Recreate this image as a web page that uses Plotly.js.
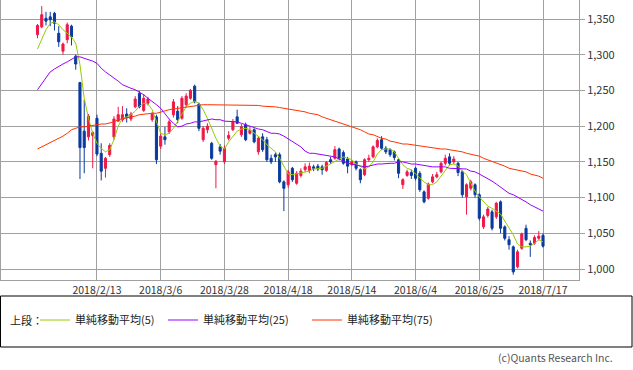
<!DOCTYPE html>
<html>
<head>
<meta charset="utf-8">
<script src="https://cdn.plot.ly/plotly-3.0.1.min.js"></script>
<style>html,body{margin:0;padding:0;background:#fff;}#chart{width:633px;height:370px;}</style>
</head>
<body>
<div id="chart"></div>
<script>
// ---- data ----
const dates = ['2018/1/23','2018/1/24','2018/1/25','2018/1/26','2018/1/29','2018/1/30','2018/1/31','2018/2/1','2018/2/2','2018/2/5','2018/2/6','2018/2/7','2018/2/8','2018/2/9','2018/2/13','2018/2/14','2018/2/15','2018/2/16','2018/2/19','2018/2/20','2018/2/21','2018/2/22','2018/2/23','2018/2/26','2018/2/27','2018/2/28','2018/3/1','2018/3/2','2018/3/5','2018/3/6','2018/3/7','2018/3/8','2018/3/9','2018/3/12','2018/3/13','2018/3/14','2018/3/15','2018/3/16','2018/3/19','2018/3/20','2018/3/22','2018/3/23','2018/3/26','2018/3/27','2018/3/28','2018/3/29','2018/3/30','2018/4/2','2018/4/3','2018/4/4','2018/4/5','2018/4/6','2018/4/9','2018/4/10','2018/4/11','2018/4/12','2018/4/13','2018/4/16','2018/4/17','2018/4/18','2018/4/19','2018/4/20','2018/4/23','2018/4/24','2018/4/25','2018/4/26','2018/4/27','2018/5/1','2018/5/2','2018/5/7','2018/5/8','2018/5/9','2018/5/10','2018/5/11','2018/5/14','2018/5/15','2018/5/16','2018/5/17','2018/5/18','2018/5/21','2018/5/22','2018/5/23','2018/5/24','2018/5/25','2018/5/28','2018/5/29','2018/5/30','2018/5/31','2018/6/1','2018/6/4','2018/6/5','2018/6/6','2018/6/7','2018/6/8','2018/6/11','2018/6/12','2018/6/13','2018/6/14','2018/6/15','2018/6/18','2018/6/19','2018/6/20','2018/6/21','2018/6/22','2018/6/25','2018/6/26','2018/6/27','2018/6/28','2018/6/29','2018/7/2','2018/7/3','2018/7/4','2018/7/5','2018/7/6','2018/7/9','2018/7/10','2018/7/11','2018/7/12','2018/7/13','2018/7/17'];

const open = [1328,1339,1351,1353,1358,1330,1305,1321,1340,1298,1261,1193,1185,1187,1211,1162,1141,1160,1185,1207,1209,1217,1210,1227,1246,1222,1232,1209,1213,1172,1185,1192,1216,1221,1211,1230,1239,1256,1231,1181,1195,1176,1146,1171,1150,1183,1195,1213,1188,1202,1190,1195,1164,1185,1181,1155,1160,1160,1122,1118,1141,1120,1131,1139,1138,1143,1144,1143,1138,1153,1155,1168,1163,1154,1146,1150,1139,1132,1153,1157,1171,1181,1169,1167,1164,1153,1118,1131,1135,1141,1134,1108,1099,1122,1129,1136,1148,1157,1150,1148,1136,1101,1113,1118,1104,1059,1075,1080,1073,1094,1059,1041,1031,1003,1029,1057,1036,1036,1043,1047];
const high = [1343,1368,1360,1360,1360,1340,1317,1345,1342,1300,1262,1237,1217,1193,1216,1176,1157,1176,1214,1227,1228,1225,1220,1242,1249,1245,1241,1220,1216,1189,1199,1209,1238,1228,1242,1246,1252,1258,1233,1200,1204,1178,1152,1175,1173,1193,1210,1223,1203,1205,1199,1197,1186,1190,1185,1160,1163,1163,1124,1139,1143,1137,1141,1148,1149,1146,1147,1146,1151,1157,1172,1170,1166,1157,1152,1152,1141,1155,1160,1173,1183,1186,1172,1169,1166,1155,1127,1139,1139,1143,1137,1110,1121,1133,1136,1150,1160,1162,1158,1150,1138,1120,1125,1120,1106,1076,1087,1083,1094,1096,1061,1046,1033,1027,1051,1062,1040,1047,1053,1050];
const low = [1323,1337,1341,1340,1334,1311,1300,1316,1313,1279,1126,1134,1180,1141,1158,1124,1128,1157,1181,1206,1206,1205,1207,1225,1225,1220,1229,1206,1147,1168,1174,1189,1212,1204,1209,1227,1237,1232,1193,1178,1190,1153,1113,1160,1147,1180,1193,1203,1185,1179,1188,1176,1160,1164,1150,1147,1150,1120,1081,1114,1122,1118,1128,1136,1134,1137,1137,1132,1136,1147,1153,1152,1146,1134,1144,1138,1120,1130,1150,1155,1169,1167,1161,1157,1152,1127,1112,1129,1126,1124,1108,1092,1097,1120,1127,1134,1145,1145,1147,1130,1100,1076,1110,1100,1068,1056,1072,1054,1070,1050,1040,1027,992,1001,1027,1039,1017,1034,1040,1030];
const close = [1341,1356,1347,1349,1344,1318,1315,1342,1325,1287,1170,1170,1214,1191,1161,1137,1155,1173,1210,1216,1216,1212,1217,1238,1227,1239,1238,1217,1153,1186,1181,1206,1234,1209,1239,1242,1250,1234,1197,1197,1200,1155,1151,1165,1169,1187,1206,1204,1199,1181,1194,1178,1183,1167,1153,1150,1157,1122,1113,1136,1125,1134,1137,1143,1144,1141,1140,1139,1149,1150,1167,1154,1148,1144,1150,1141,1125,1153,1155,1171,1180,1169,1164,1160,1156,1134,1125,1136,1131,1127,1111,1094,1119,1129,1132,1148,1155,1148,1154,1135,1104,1118,1122,1104,1071,1073,1084,1057,1092,1057,1043,1034,996,1024,1049,1041,1034,1044,1046,1032];

const ma5 = [1308,1321,1335,1344,1346,1342,1335,1330,1325,1316,1286,1239,1211,1190,1176,1169,1164,1167,1181,1200,1211,1213,1216,1221,1228,1232,1231,1223,1206,1190,1188,1190,1197,1207,1218,1227,1232,1235,1232,1223,1211,1197,1183,1172,1168,1178,1186,1193,1196,1197,1195,1190,1186,1181,1174,1169,1164,1155,1144,1133,1132,1133,1134,1136,1137,1140,1141,1141,1144,1147,1150,1154,1157,1155,1153,1147,1143,1140,1143,1150,1161,1167,1168,1168,1164,1155,1146,1141,1139,1133,1127,1122,1118,1118,1122,1130,1139,1146,1147,1144,1137,1132,1120,1109,1101,1095,1088,1085,1081,1077,1067,1057,1048,1035,1031,1031,1032,1036,1041,1038];
const ma25 = [1251,1259,1267,1276,1280,1284,1287,1290,1294,1297,1297,1295,1294,1291,1288,1281,1276,1272,1267,1263,1258,1255,1253,1251,1248,1244,1239,1235,1230,1225,1217,1210,1204,1199,1200,1203,1204,1206,1206,1207,1209,1210,1209,1209,1207,1207,1206,1206,1204,1202,1200,1197,1196,1195,1192,1190,1190,1189,1186,1182,1179,1175,1171,1165,1162,1162,1161,1160,1160,1158,1157,1154,1151,1148,1147,1146,1144,1143,1144,1146,1147,1147,1148,1148,1148,1150,1150,1148,1147,1147,1146,1144,1144,1143,1143,1143,1143,1141,1141,1141,1141,1140,1137,1136,1133,1130,1127,1123,1119,1115,1111,1106,1104,1101,1098,1094,1090,1087,1084,1081];
const ma75 = [1168,1171,1174,1176,1179,1182,1186,1190,1195,1197,1199,1199,1200,1202,1202,1203,1203,1204,1206,1209,1210,1211,1213,1214,1216,1217,1217,1218,1218,1220,1221,1223,1224,1225,1225,1227,1228,1228,1230,1230,1230,1230,1230,1230,1230,1230,1230,1230,1230,1230,1230,1230,1229,1228,1228,1227,1227,1226,1225,1225,1224,1223,1221,1220,1218,1217,1216,1213,1211,1209,1207,1206,1203,1202,1200,1197,1195,1192,1189,1188,1185,1183,1182,1179,1178,1176,1175,1175,1174,1174,1173,1172,1171,1169,1169,1168,1168,1167,1167,1165,1164,1162,1161,1160,1158,1155,1153,1150,1148,1147,1144,1141,1140,1139,1137,1136,1133,1132,1130,1127];

const tickDates = ['2018/2/13','2018/3/6','2018/3/28','2018/4/18','2018/5/14','2018/6/4','2018/6/25','2018/7/17'];
const yTicks = [1000,1050,1100,1150,1200,1250,1300,1350];
const seriesNames = ['単純移動平均(5)','単純移動平均(25)','単純移動平均(75)'];

// ---- styling ----
const RED = '#f01848', BLUE = '#0a3a9e';
const C5 = '#99cc00', C25 = '#9900ff', C75 = '#ff3300';
const GRID = '#a0a0a0';
const FONT = 'Noto Sans CJK JP, DejaVu Sans, sans-serif';
const W = 633, H = 370, ML = 1, MR = 54, MT = 0, MB = 90;
const PW = W - ML - MR, PH = H - MT - MB;
const px = v => (v - ML) / PW;
const py = v => (PH + MT - v) / PH;

const traces = [
  {type:'candlestick', x:dates, open:open, high:high, low:low, close:close,
   increasing:{line:{color:RED,width:1}, fillcolor:RED},
   decreasing:{line:{color:BLUE,width:1}, fillcolor:BLUE},
   whiskerwidth:0, showlegend:false, hoverinfo:'skip'},
  {type:'scatter', mode:'lines', x:dates, y:ma5, name:seriesNames[0], line:{color:C5,width:1}, legend:'legend'},
  {type:'scatter', mode:'lines', x:dates, y:ma25, name:seriesNames[1], line:{color:C25,width:1}, legend:'legend2'},
  {type:'scatter', mode:'lines', x:dates, y:ma75, name:seriesNames[2], line:{color:C75,width:1}, legend:'legend3'}
];

const legBase = {orientation:'h', xanchor:'left', yanchor:'middle', y:py(320),
  bgcolor:'rgba(0,0,0,0)', borderwidth:0, font:{family:FONT,size:11,color:'#222'}};

const layout = {
  width:W, height:H, margin:{l:ML,r:MR,t:MT,b:MB},
  paper_bgcolor:'#fff', plot_bgcolor:'#fff',
  font:{family:FONT, size:11, color:'#333'},
  showlegend:true,
  legend:Object.assign({}, legBase, {x:px(35)}),
  legend2:Object.assign({}, legBase, {x:px(163)}),
  legend3:Object.assign({}, legBase, {x:px(307)}),
  xaxis:{type:'category', categoryorder:'array', categoryarray:dates,
    range:[-8.59, 127.47], tickvals:tickDates, ticktext:tickDates,
    showgrid:true, gridcolor:GRID, gridwidth:1, showline:true, mirror:true, linecolor:GRID,
    ticks:'', tickfont:{size:10.5,color:'#333'}, rangeslider:{visible:false}, fixedrange:true},
  yaxis:{side:'right', range:[984.6,1376.6], tickvals:yTicks, tickformat:',d',
    ticks:'outside', ticklen:5, tickcolor:GRID, showgrid:true, gridcolor:GRID, gridwidth:1,
    showline:true, mirror:true, linecolor:GRID, zeroline:false, tickfont:{size:11,color:'#333'}, fixedrange:true},
  shapes:[{type:'rect', xref:'paper', yref:'paper', x0:px(0.5), x1:px(632), y0:py(296), y1:py(347),
    line:{color:'#000',width:1}, fillcolor:'rgba(0,0,0,0)'}],
  annotations:[
    {xref:'paper', yref:'paper', x:px(8), y:py(320), xanchor:'left', yanchor:'middle', showarrow:false,
     text:'上段：', font:{family:FONT,size:11,color:'#222'}},
    {xref:'paper', yref:'paper', x:px(615), y:py(357), xanchor:'right', yanchor:'middle', showarrow:false,
     text:'(c)Quants Research Inc.', font:{family:FONT,size:10.5,color:'#555'}}
  ]
};

Plotly.newPlot('chart', traces, layout, {staticPlot:true, displayModeBar:false});
</script>
</body>
</html>
